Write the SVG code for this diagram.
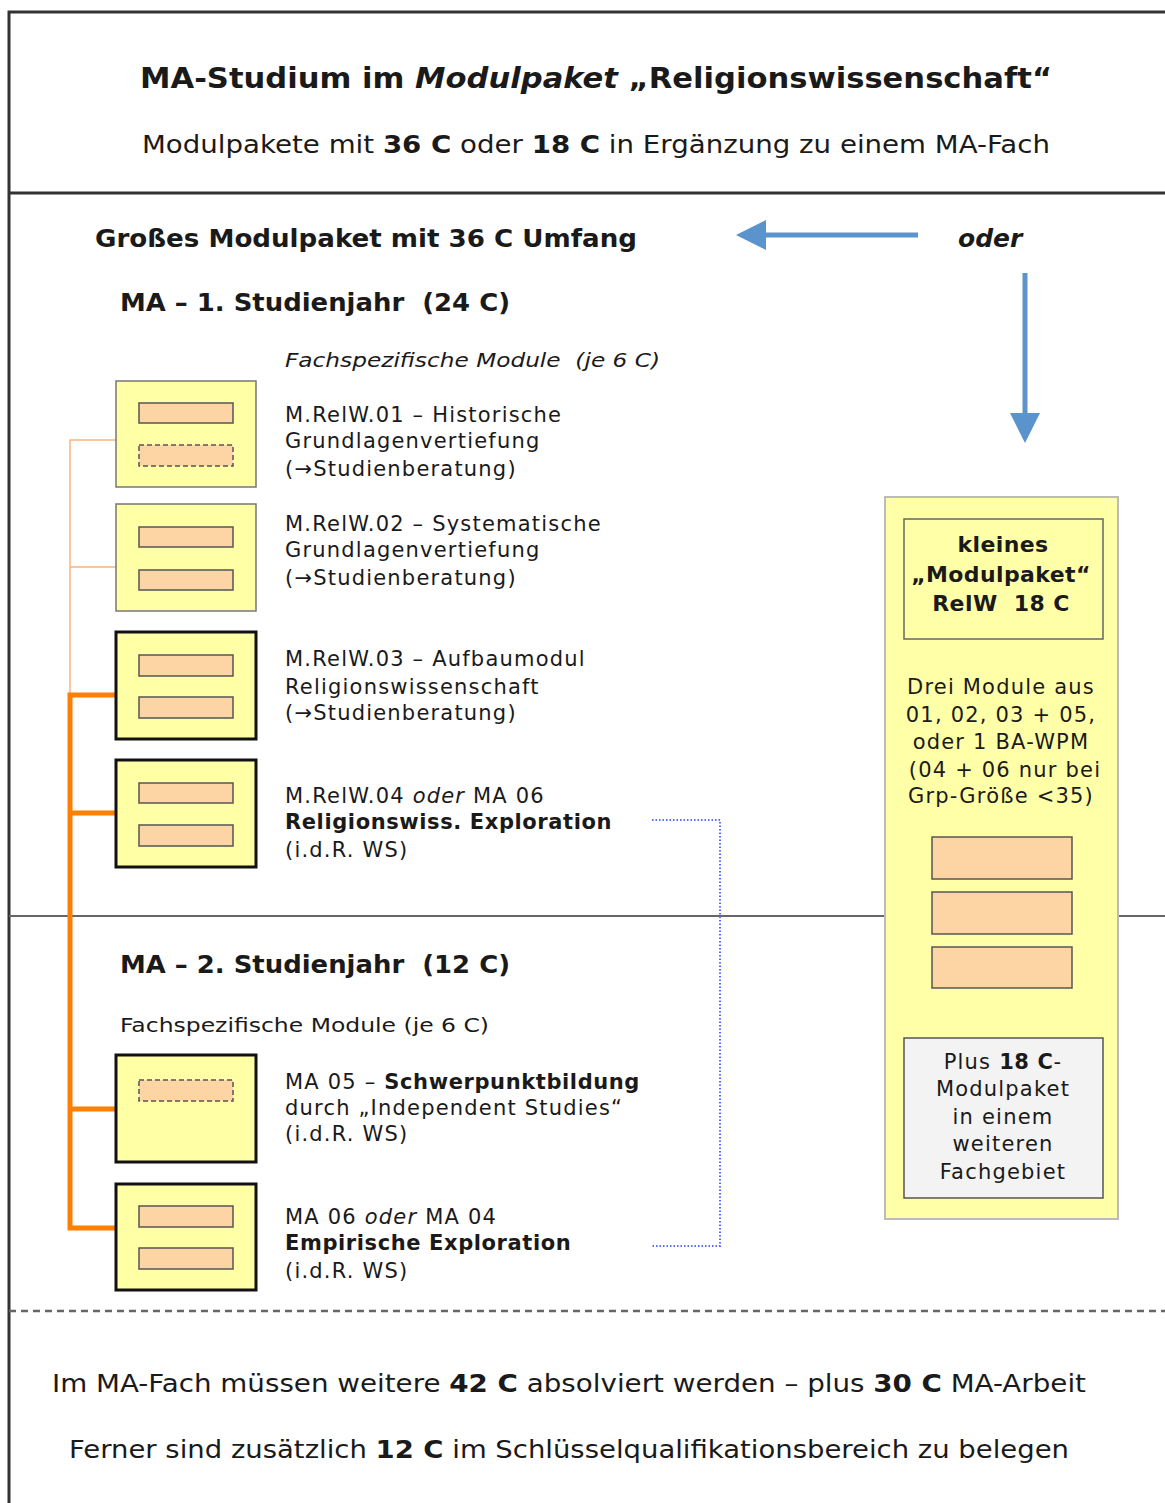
<svg xmlns="http://www.w3.org/2000/svg" width="1165" height="1503" viewBox="0 0 1165 1503">
<style>
text{font-family:"DejaVu Sans","Verdana",sans-serif;fill:#1a1a1a}
.b{font-weight:bold}
.i{font-style:italic}
.t20{font-size:20px}
.m{font-size:21px;letter-spacing:1.2px}
.mb{font-size:21px;letter-spacing:0.6px;font-weight:bold}
.c{text-anchor:middle}
.mod{fill:#ffffa6;stroke:#777;stroke-width:1.5}
.modk{fill:#ffffa6;stroke:#111;stroke-width:3}
.in{fill:#fdd5a5;stroke:#555;stroke-width:1.5}
.ind{fill:#fdd5a5;stroke:#555;stroke-width:1.5;stroke-dasharray:5 3}
</style>
<defs>
<marker id="ah" markerWidth="6" markerHeight="6" refX="5" refY="3" orient="auto" markerUnits="strokeWidth">
<path d="M0,0 L6,3 L0,6 Z" fill="#5b93cc"/>
</marker>
</defs>
<rect x="0" y="0" width="1165" height="1503" fill="#fff"/>
<g id="frame" fill="none">
<path d="M9,1503 V12 H1165" stroke="#333" stroke-width="3"/>
<line x1="9" y1="193" x2="1165" y2="193" stroke="#333" stroke-width="3"/>
<line x1="9" y1="916" x2="885" y2="916" stroke="#666" stroke-width="2"/>
<line x1="1118" y1="916" x2="1165" y2="916" stroke="#666" stroke-width="2"/>
<line x1="9" y1="1311" x2="1165" y2="1311" stroke="#666" stroke-width="2.5" stroke-dasharray="7 5"/>
</g>
<g id="header">
<text x="596" y="88" class="b c" font-size="28" textLength="912" lengthAdjust="spacingAndGlyphs">MA-Studium im <tspan class="i">Modulpaket</tspan> „Religionswissenschaft“</text>
<text x="596" y="153" class="c" font-size="25" textLength="908" lengthAdjust="spacingAndGlyphs">Modulpakete mit <tspan class="b">36 C</tspan> oder <tspan class="b">18 C</tspan> in Ergänzung zu einem MA-Fach</text>
</g>
<g id="section1">
<text x="95" y="247" class="b" font-size="25" textLength="542" lengthAdjust="spacingAndGlyphs">Großes Modulpaket mit 36 C Umfang</text>
<text x="958" y="247" class="b i" font-size="25">oder</text>
<text x="120" y="311" class="b" font-size="25" xml:space="preserve" textLength="390" lengthAdjust="spacingAndGlyphs">MA – 1. Studienjahr  (24 C)</text>
<text x="285" y="367" class="i t20" xml:space="preserve" textLength="375" lengthAdjust="spacingAndGlyphs">Fachspezifische Module  (je 6 C)</text>
</g>
<g id="connectors" fill="none">
<path d="M70,695 V440 H116 M70,567 H116" stroke="#fbb47c" stroke-width="1.5"/>
<path d="M116,695 H70 V1228 H116 M70,813 H116 M70,1109 H116" stroke="#ff7f00" stroke-width="5"/>
<path d="M652,820 H720 V1246 H652" stroke="#5a6cff" stroke-width="2" stroke-dasharray="1.5 2"/>
<line x1="918" y1="235" x2="741" y2="235" stroke="#5b93cc" stroke-width="5" marker-end="url(#ah)"/>
<line x1="1025" y1="273" x2="1025" y2="438" stroke="#5b93cc" stroke-width="5" marker-end="url(#ah)"/>
</g>
<g id="m01">
<rect x="116" y="381" width="140" height="106" class="mod"/>
<rect x="139" y="403" width="94" height="20" class="in"/>
<rect x="139" y="445" width="94" height="21" class="ind"/>
<text class="m" x="285" y="422">M.RelW.01 – Historische</text>
<text class="m" x="285" y="448">Grundlagenvertiefung</text>
<text class="m" x="285" y="476">(→Studienberatung)</text>
</g>
<g id="m02">
<rect x="116" y="504" width="140" height="107" class="mod"/>
<rect x="139" y="527" width="94" height="20" class="in"/>
<rect x="139" y="570" width="94" height="20" class="in"/>
<text class="m" x="285" y="531">M.RelW.02 – Systematische</text>
<text class="m" x="285" y="557">Grundlagenvertiefung</text>
<text class="m" x="285" y="585">(→Studienberatung)</text>
</g>
<g id="m03">
<rect x="116" y="632" width="140" height="107" class="modk"/>
<rect x="139" y="655" width="94" height="21" class="in"/>
<rect x="139" y="697" width="94" height="21" class="in"/>
<text class="m" x="285" y="666">M.RelW.03 – Aufbaumodul</text>
<text class="m" x="285" y="694">Religionswissenschaft</text>
<text class="m" x="285" y="720">(→Studienberatung)</text>
</g>
<g id="m04">
<rect x="116" y="760" width="140" height="107" class="modk"/>
<rect x="139" y="783" width="94" height="20" class="in"/>
<rect x="139" y="825" width="94" height="21" class="in"/>
<text class="m" x="285" y="803">M.RelW.04 <tspan class="i">oder</tspan> MA 06</text>
<text class="mb" x="285" y="829">Religionswiss. Exploration</text>
<text class="m" x="285" y="857">(i.d.R. WS)</text>
</g>
<g id="section2">
<text x="120" y="973" class="b" font-size="25" xml:space="preserve" textLength="390" lengthAdjust="spacingAndGlyphs">MA – 2. Studienjahr  (12 C)</text>
<text x="120" y="1032" class="t20" textLength="369" lengthAdjust="spacingAndGlyphs">Fachspezifische Module (je 6 C)</text>
</g>
<g id="m05">
<rect x="116" y="1055" width="140" height="107" class="modk"/>
<rect x="139" y="1080" width="94" height="21" class="ind"/>
<text class="m" x="285" y="1089">MA 05 – <tspan font-weight="bold" letter-spacing="0.6px">Schwerpunktbildung</tspan></text>
<text class="m" x="285" y="1115">durch „Independent Studies“</text>
<text class="m" x="285" y="1141">(i.d.R. WS)</text>
</g>
<g id="m06">
<rect x="116" y="1184" width="140" height="106" class="modk"/>
<rect x="139" y="1206" width="94" height="21" class="in"/>
<rect x="139" y="1248" width="94" height="21" class="in"/>
<text class="m" x="285" y="1224">MA 06 <tspan class="i">oder</tspan> MA 04</text>
<text class="mb" x="285" y="1250">Empirische Exploration</text>
<text class="m" x="285" y="1278">(i.d.R. WS)</text>
</g>
<g id="small-package">
<rect x="885" y="497" width="233" height="722" fill="#ffffa8" stroke="#bbb" stroke-width="2"/>
<rect x="904" y="519" width="199" height="120" fill="#ffffa8" stroke="#666" stroke-width="1.5"/>
<text class="b c" font-size="22" letter-spacing="0.4px" x="1003" y="552">kleines</text>
<text class="b c" font-size="22" letter-spacing="0.4px" x="1001" y="582">„Modulpaket“</text>
<text class="b c" font-size="22" letter-spacing="0.4px" x="1001" y="611" xml:space="preserve">RelW  18 C</text>
<text class="m c" x="1001" y="694">Drei Module aus</text>
<text class="m c" x="1001" y="722">01, 02, 03 + 05,</text>
<text class="m c" x="1001" y="749">oder 1 BA-WPM</text>
<text class="m c" x="1005" y="777">(04 + 06 nur bei</text>
<text class="m c" x="1001" y="803">Grp-Größe &lt;35)</text>
<rect x="932" y="837" width="140" height="42" class="in"/>
<rect x="932" y="892" width="140" height="42" class="in"/>
<rect x="932" y="947" width="140" height="41" class="in"/>
<rect x="904" y="1038" width="199" height="160" fill="#f3f3f3" stroke="#555" stroke-width="1.5"/>
<text class="m c" x="1003" y="1069">Plus <tspan font-weight="bold" letter-spacing="0.6px">18 C</tspan>-</text>
<text class="m c" x="1003" y="1096">Modulpaket</text>
<text class="m c" x="1003" y="1124">in einem</text>
<text class="m c" x="1003" y="1151">weiteren</text>
<text class="m c" x="1003" y="1179">Fachgebiet</text>
</g>
<g id="footer">
<text x="569" y="1392" class="c" font-size="25" textLength="1034" lengthAdjust="spacingAndGlyphs">Im MA-Fach müssen weitere <tspan class="b">42 C</tspan> absolviert werden – plus <tspan class="b">30 C</tspan> MA-Arbeit</text>
<text x="569" y="1458" class="c" font-size="25" textLength="1000" lengthAdjust="spacingAndGlyphs">Ferner sind zusätzlich <tspan class="b">12 C</tspan> im Schlüsselqualifikationsbereich zu belegen</text>
</g>
</svg>
